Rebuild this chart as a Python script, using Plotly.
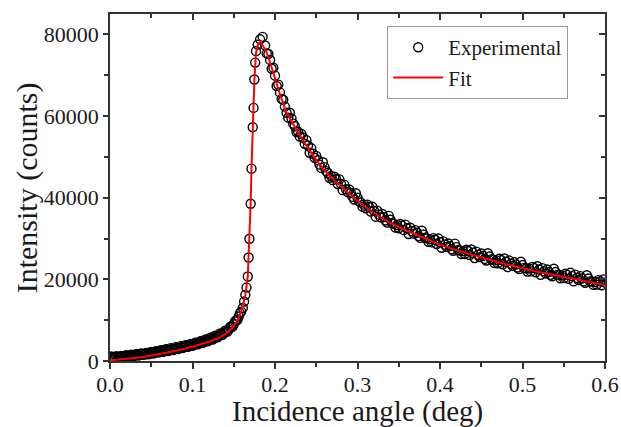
import plotly.graph_objects as go

# ---------------- data ----------------
# Experimental points: low-angle region (0 - 0.159 deg)
exp_low_x = [round(0.003 * i, 4) for i in range(54)]
exp_low_y = [800, 950, 850, 1050, 1000, 1150, 1100, 1300, 1200, 1400,
             1350, 1600, 1500, 1750, 1650, 1900, 1850, 2100, 2050, 2300,
             2250, 2500, 2450, 2750, 2700, 2950, 2950, 3200, 3200, 3450,
             3450, 3750, 3700, 4050, 4000, 4350, 4350, 4700, 4700, 5100,
             5100, 5550, 5600, 6050, 6150, 6650, 6850, 7400, 7750, 8500,
             9000, 10000, 10900, 12100]
exp_low2_x = [round(0.0015 + 0.003 * i, 4) for i in range(53)]
exp_low2_y = [1100, 700, 1150, 850, 1250, 950, 1400, 1050, 1550, 1200,
              1700, 1350, 1850, 1500, 2000, 1650, 2200, 1850, 2400, 2050,
              2650, 2250, 2900, 2450, 3150, 2700, 3400, 2950, 3650, 3200,
              3900, 3450, 4200, 3750, 4500, 4100, 4850, 4450, 5250, 4850,
              5700, 5250, 6200, 5800, 6750, 6400, 7450, 7200, 8300, 8400,
              9700, 10100, 11700]

# Experimental points: critical-angle edge
exp_edge_x = [0.161, 0.1625, 0.164, 0.1655, 0.167, 0.168, 0.169, 0.1705,
              0.1715, 0.173, 0.174, 0.175, 0.176, 0.177, 0.179, 0.182, 0.185]
exp_edge_y = [13000, 14560, 16200, 17990, 20690, 25350, 29940, 38530,
              47120, 57250, 62000, 68960, 73100, 75900, 77500, 78800, 79400]

# Experimental points: decay region (0.188 - 0.600 deg)
exp_high_x = [round(0.188 + 0.004 * i, 4) for i in range(104)]
exp_high_y = [77300, 75200, 71600, 69900, 67700, 64200, 62300, 59600, 59400, 57500,
              56200, 55600, 53200, 52800, 52100, 49800, 49200, 47300, 47500, 46050,
              45300, 45150, 43350, 43400, 43200, 41350, 41150, 39550, 40000, 38800,
              38300, 38300, 36600, 36800, 36800, 35200, 35250, 33900, 34600, 33600,
              33300, 33550, 32050, 32500, 32650, 31200, 31400, 30150, 31000, 30050,
              29800, 30100, 28650, 29100, 29300, 27950, 28150, 27000, 27900, 27050,
              26900, 27250, 25950, 26500, 26800, 25450, 25750, 24600, 25600, 24800,
              24650, 25050, 23700, 24300, 24600, 23300, 23600, 22500, 23500, 22700,
              22650, 23050, 21750, 22400, 22750, 21450, 21800, 20750, 21800, 21050,
              20950, 21400, 20150, 20800, 21150, 19850, 20200, 19150, 20200, 19450,
              19350, 19800, 18550, 19200]
exp_high2_x = [round(0.190 + 0.004 * i, 4) for i in range(103)]
exp_high2_y = [75350, 73750, 71850, 67350, 65800, 64000, 60800, 60800, 58150, 56100,
               55000, 54750, 54100, 51000, 50800, 50250, 48100, 48700, 46500, 44900,
               44300, 44600, 44500, 41850, 42100, 42000, 40200, 41100, 39100, 37800,
               37400, 37800, 37800, 35350, 35850, 36000, 34400, 35550, 33800, 32700,
               32500, 33150, 33400, 31100, 31800, 32050, 30600, 31900, 30200, 29200,
               29050, 29700, 30000, 27750, 28500, 28800, 27400, 28750, 27200, 26200,
               26200, 26950, 27300, 25200, 26000, 26350, 25000, 26400, 24900, 24000,
               23950, 24700, 25100, 23000, 23800, 24200, 22900, 24300, 22800, 21900,
               21950, 22750, 23200, 21100, 21950, 22400, 21100, 22600, 21100, 20250,
               20300, 21100, 21600, 19500, 20350, 20800, 19500, 21000, 19500, 18650,
               18700, 19500, 20000]

# Fit curve
fit_x = [0, 0.02, 0.04, 0.06, 0.08, 0.10, 0.12, 0.13, 0.14, 0.15, 0.155, 0.16,
         0.164, 0.167, 0.169, 0.1705, 0.1715, 0.173, 0.175, 0.177, 0.179, 0.1825,
         0.19, 0.198, 0.206, 0.214, 0.22, 0.23, 0.24, 0.25, 0.26, 0.27, 0.28, 0.29,
         0.30, 0.32, 0.34, 0.36, 0.38, 0.40, 0.42, 0.44, 0.46, 0.48, 0.50, 0.52,
         0.54, 0.56, 0.58, 0.60]
fit_y = [150, 500, 1000, 1700, 2500, 3500, 4700, 5500, 6600, 8500, 10200, 12700,
         16000, 20700, 29900, 38500, 47000, 57200, 69000, 75500, 77300, 78300,
         75500, 70600, 65300, 60800, 58600, 55300, 52200, 49200, 46700, 44600, 42800, 41000,
         39200, 36200, 33800, 31900, 30200, 28500, 27100, 25900, 24800, 23700, 22700, 21800,
         21000, 20200, 19400, 18600]

x_ticks = [0.0, 0.1, 0.2, 0.3, 0.4, 0.5, 0.6]
y_ticks = [0, 20000, 40000, 60000, 80000]
x_title = "Incidence angle (deg)"
y_title = "Intensity (counts)"

exp_x = exp_low_x + exp_low2_x + exp_edge_x + exp_high_x + exp_high2_x
exp_y = exp_low_y + exp_low2_y + exp_edge_y + exp_high_y + exp_high2_y

FONT = "Liberation Serif, Times New Roman, serif"
AX = "#333333"
TXT = "#1a1a1a"

fig = go.Figure()
fig.add_trace(go.Scatter(
    x=exp_x, y=exp_y, mode="markers", name="Experimental",
    marker=dict(symbol="circle-open", size=9, color="black", line=dict(width=1.4, color="black")),
))
fig.add_trace(go.Scatter(
    x=fit_x, y=fit_y, mode="lines", name="Fit",
    line=dict(color="#ff0000", width=2),
))
# invisible trace for the mirrored (top/right) axes
fig.add_trace(go.Scatter(x=[0.3], y=[40000], xaxis="x2", yaxis="y2", mode="markers",
                         marker=dict(opacity=0), showlegend=False, hoverinfo="skip"))

common = dict(showline=True, linecolor=AX, linewidth=1.5, showgrid=False, zeroline=False,
              tickcolor=AX, tickwidth=1.5, automargin=False)

fig.update_layout(
    width=621, height=427,
    margin=dict(l=110, r=16, t=14, b=66),
    paper_bgcolor="white", plot_bgcolor="white",
    font=dict(family=FONT, color=TXT, size=22),
    showlegend=True,
    legend=dict(x=0.56, y=0.965, xanchor="left", yanchor="top",
                bgcolor="white", bordercolor="#999999", borderwidth=1,
                font=dict(family=FONT, size=21, color=TXT),
                tracegroupgap=0, itemwidth=50),
    xaxis=dict(range=[0, 0.6], tickvals=x_ticks, tickformat=".1f", ticks="outside",
               ticklen=6, ticklabelstandoff=-3,
               minor=dict(dtick=0.05, ticks="outside", ticklen=4, tickcolor=AX, tickwidth=1.5),
               tickfont=dict(size=22), **common),
    yaxis=dict(range=[0, 85000], tickvals=y_ticks, tickformat="d", ticks="outside",
               ticklen=5, minor=dict(dtick=10000, ticks="outside", ticklen=4, tickcolor=AX, tickwidth=1.5),
               tickfont=dict(size=22), **common),
    xaxis2=dict(range=[0, 0.6], overlaying="x", side="top", anchor="y", tickvals=x_ticks,
                ticks="inside", ticklen=6, showticklabels=False,
                minor=dict(dtick=0.05, ticks="inside", ticklen=4, tickcolor=AX, tickwidth=1.5),
                **common),
    yaxis2=dict(range=[0, 85000], overlaying="y", side="right", anchor="x", tickvals=y_ticks,
                ticks="inside", ticklen=6, showticklabels=False,
                minor=dict(dtick=10000, ticks="inside", ticklen=4, tickcolor=AX, tickwidth=1.5),
                **common),
    annotations=[
        dict(text=x_title, xref="paper", yref="paper", x=0.5, y=-0.145,
             xanchor="center", yanchor="middle", showarrow=False,
             font=dict(family=FONT, size=29, color=TXT)),
        dict(text=y_title, xref="paper", yref="paper", x=-0.168, y=0.5,
             xanchor="center", yanchor="middle", showarrow=False, textangle=-90,
             font=dict(family=FONT, size=30, color=TXT)),
    ],
)

fig.write_html("out.html", config={"displayModeBar": False},
               post_script="document.body.style.margin='0px';")
